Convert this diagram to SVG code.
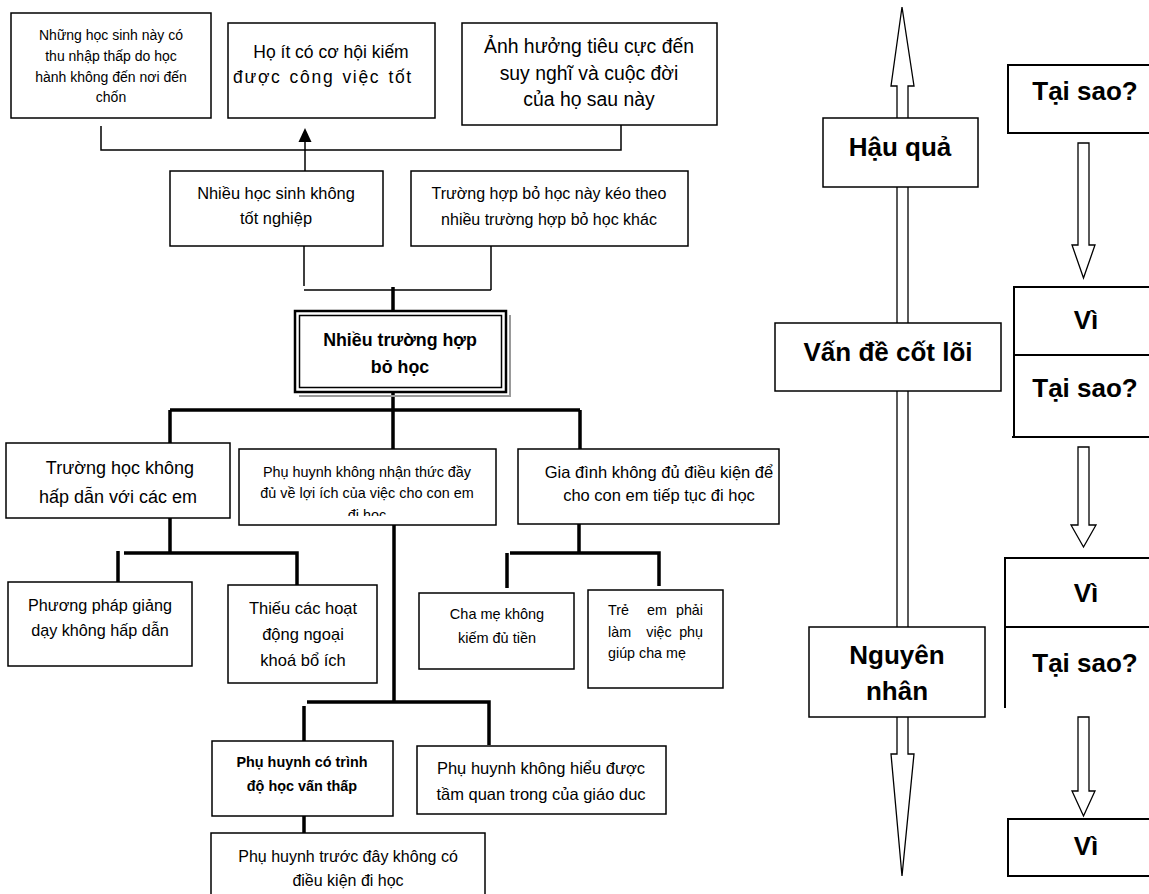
<svg xmlns="http://www.w3.org/2000/svg" width="1149" height="894" viewBox="0 0 1149 894">
<style>
.box{fill:#fff;stroke:#000;stroke-width:1.5}
.t{font-family:"Liberation Sans",Arial,sans-serif;fill:#000;text-anchor:middle}
.b{font-weight:bold}
.thin{fill:none;stroke:#000;stroke-width:1.5}
.thick{fill:none;stroke:#000;stroke-width:3.5}
.rb{fill:none;stroke:#000;stroke-width:2}
.hollow{fill:#fff;stroke:#000;stroke-width:1.3}
</style>
<defs>
<clipPath id="c7"><rect x="239" y="449" width="257" height="67"/></clipPath>
<clipPath id="c12"><rect x="417" y="746" width="249" height="58"/></clipPath>
</defs>
<rect width="1149" height="894" fill="#fff"/>

<g id="connectors">
<path class="thin" d="M101 126V150H621V125"/>
<path class="thin" d="M305 171V140"/>
<polygon points="305,128 298.5,142 311.5,142" fill="#000"/>
<path class="thin" d="M304 246V286M304 290H491M491 246V290"/>
<path class="thick" d="M393 287V311M393 392V410M170 410H580M170 410V443M393 410V450M580 410V449"/>
<path class="thick" d="M170 518V553M124 553H297V586M118 551V584"/>
<path class="thick" d="M579 524V553M510 553H659V586M507 553V588"/>
<path class="thick" d="M394 525V702M307 702H489V745M304 706V741M304 816V833"/>
<polygon class="hollow" points="902,7 914,86 908,86 908,754 914,754 902,876 891,754 897,754 897,86 891,86"/>
<polygon class="hollow" points="1078,143 1089,143 1089,245 1095,245 1083.5,278 1072,245 1078,245"/>
<polygon class="hollow" points="1078,447 1089,447 1089,525 1096,525 1083.5,547 1071,525 1078,525"/>
<polygon class="hollow" points="1078,717 1089,717 1089,791 1095,791 1083.5,816 1072,791 1078,791"/>
</g>

<g id="n1"><rect class="box" x="11" y="13" width="200" height="105"/>
<text class="t" font-size="14"><tspan x="111" y="40">Những học sinh này có</tspan><tspan x="111" y="61">thu nhập thấp do học</tspan><tspan x="111" y="82">hành không đến nơi đến</tspan><tspan x="111" y="102">chốn</tspan></text></g>

<g id="n2"><rect class="box" x="228" y="23" width="207" height="95"/>
<text class="t" font-size="17.5"><tspan x="331" y="58">Họ ít có cơ hội kiếm</tspan></text>
<text class="t" font-size="17.5" letter-spacing="1.7" word-spacing="1.5"><tspan x="323" y="83">được công việc tốt</tspan></text></g>

<g id="n3"><rect class="box" x="462" y="23" width="255" height="102"/>
<text class="t" font-size="19.4"><tspan x="589" y="53">Ảnh hưởng tiêu cực đến</tspan><tspan x="589" y="80">suy nghĩ và cuộc đời</tspan><tspan x="589" y="106">của họ sau này</tspan></text></g>

<g id="n4"><rect class="box" x="170" y="171" width="213" height="75"/>
<text class="t" font-size="16.4"><tspan x="276" y="199">Nhiều học sinh không</tspan><tspan x="276" y="224">tốt nghiệp</tspan></text></g>

<g id="n5"><rect class="box" x="411" y="171" width="277" height="75"/>
<text class="t" font-size="16"><tspan x="549" y="199">Trường hợp bỏ học này kéo theo</tspan><tspan x="549" y="225">nhiều trường hợp bỏ học khác</tspan></text></g>

<g id="center">
<path d="M510 315V396H299" fill="none" stroke="#999" stroke-width="2"/>
<rect x="295" y="311" width="211" height="81" fill="#fff" stroke="#000" stroke-width="2.5"/>
<rect x="299.5" y="315.5" width="202" height="72" fill="none" stroke="#000" stroke-width="1.5"/>
<text class="t b" font-size="17.8"><tspan x="400" y="346">Nhiều trường hợp</tspan><tspan x="400" y="373">bỏ học</tspan></text></g>

<g id="n6"><rect class="box" x="6" y="443" width="224" height="75"/>
<text class="t" font-size="18"><tspan x="120" y="474">Trường học không</tspan><tspan x="118" y="503">hấp dẫn với các em</tspan></text></g>

<g id="n7"><rect class="box" x="239" y="449" width="257" height="76"/>
<text class="t" font-size="14.4" clip-path="url(#c7)"><tspan x="367" y="477">Phụ huynh không nhận thức đầy</tspan><tspan x="367" y="498">đủ về lợi ích của việc cho con em</tspan><tspan x="367" y="520">đi hoc</tspan></text></g>

<g id="n8"><rect class="box" x="518" y="449" width="261" height="75"/>
<text class="t" font-size="16.5"><tspan x="659" y="478">Gia đình không đủ điều kiện để</tspan><tspan x="659" y="501">cho con em tiếp tục đi học</tspan></text></g>

<g id="n9"><rect class="box" x="8" y="582" width="184" height="84"/>
<text class="t" font-size="16.2"><tspan x="100" y="611">Phương pháp giảng</tspan><tspan x="100" y="636">dạy không hấp dẫn</tspan></text></g>

<g id="n10"><rect class="box" x="228" y="585" width="149" height="98"/>
<text class="t" font-size="16.5"><tspan x="303" y="614">Thiếu các hoạt</tspan><tspan x="303" y="640">động ngoại</tspan><tspan x="303" y="666">khoá bổ ích</tspan></text></g>

<g id="n14"><rect class="box" x="419" y="593" width="155" height="76"/>
<text class="t" font-size="14.5"><tspan x="497" y="619">Cha mẹ không</tspan><tspan x="497" y="643">kiếm đủ tiền</tspan></text></g>

<g id="n15"><rect class="box" x="588" y="590" width="135" height="98"/>
<text class="t" font-size="14.3" text-anchor="start"><tspan x="608" y="615" text-anchor="start">Trẻ</tspan><tspan x="657" y="615" text-anchor="middle">em</tspan><tspan x="703" y="615" text-anchor="end">phải</tspan><tspan x="608" y="637" text-anchor="start">làm</tspan><tspan x="659" y="637" text-anchor="middle">việc</tspan><tspan x="703" y="637" text-anchor="end">phụ</tspan><tspan x="608" y="658" text-anchor="start">giúp cha mẹ</tspan></text></g>

<g id="n11"><rect class="box" x="212" y="741" width="181" height="75"/>
<text class="t b" font-size="14.4"><tspan x="302" y="767">Phụ huynh có trình</tspan><tspan x="302" y="791">độ học vấn thấp</tspan></text></g>

<g id="n12"><rect class="box" x="417" y="746" width="249" height="68"/>
<text class="t" font-size="16.5" clip-path="url(#c12)"><tspan x="541" y="774">Phụ huynh không hiểu được</tspan><tspan x="541" y="800">tầm quan trong của giáo duc</tspan></text></g>

<g id="n13"><rect class="box" x="211" y="833" width="274" height="70"/>
<text class="t" font-size="16"><tspan x="348" y="862">Phụ huynh trước đây không có</tspan><tspan x="348" y="886">điều kiện đi học</tspan></text></g>

<g id="hauqua"><rect class="box" x="823" y="118" width="155" height="69"/>
<text class="t b" font-size="26" x="900" y="156">Hậu quả</text></g>

<g id="vande"><rect class="box" x="775" y="323" width="226" height="68"/>
<text class="t b" font-size="26" x="888" y="361">Vấn đề cốt lõi</text></g>

<g id="nguyennhan"><rect class="box" x="809" y="627" width="176" height="90"/>
<text class="t b" font-size="26"><tspan x="897" y="664">Nguyên</tspan><tspan x="897" y="700">nhân</tspan></text></g>

<g id="r1"><rect fill="#fff" stroke="#000" stroke-width="2" x="1008" y="65" width="160" height="68"/>
<text class="t b" font-size="26" x="1085" y="100">Tại sao?</text></g>

<g id="r2"><path class="rb" d="M1160 287H1014V437M1014 355H1160M1012 437H1160"/>
<text class="t b" font-size="26"><tspan x="1086" y="329">Vì</tspan><tspan x="1085" y="397">Tại sao?</tspan></text></g>

<g id="r3"><path class="rb" d="M1160 558H1005V708M1005 627H1160"/>
<text class="t b" font-size="26"><tspan x="1086" y="602">Vì</tspan><tspan x="1085" y="672">Tại sao?</tspan></text></g>

<g id="r4"><rect fill="#fff" stroke="#000" stroke-width="2" x="1008" y="819" width="160" height="57"/>
<text class="t b" font-size="26" x="1086" y="855">Vì</text></g>
</svg>
